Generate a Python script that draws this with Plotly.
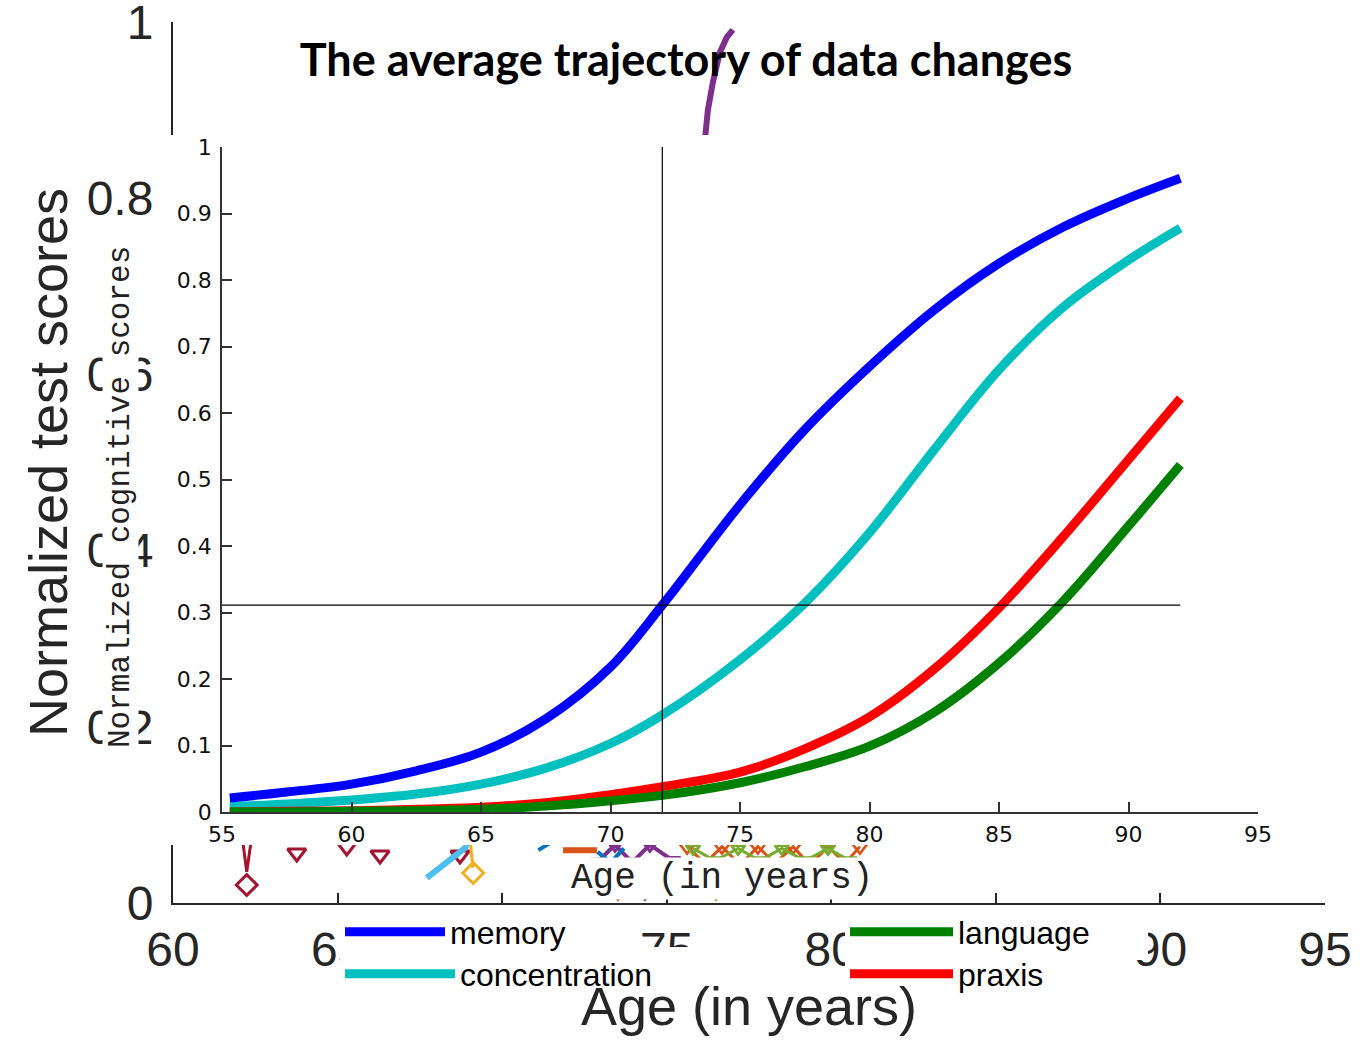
import plotly.graph_objects as go

W, H = 1372, 1049

# ---------------- inner chart data (average trajectories) ----------------
age = [55.3, 57.5, 60, 62.5, 65, 67.5, 70, 72, 75, 77.5, 80, 82.5, 85, 87.5, 90, 92]
memory = [0.021, 0.030, 0.042, 0.062, 0.090, 0.140, 0.218, 0.311, 0.462, 0.575, 0.670, 0.755, 0.825, 0.880, 0.923, 0.953]
concentration = [0.008, 0.012, 0.018, 0.027, 0.042, 0.066, 0.103, 0.146, 0.229, 0.314, 0.420, 0.545, 0.665, 0.760, 0.830, 0.878]
language = [0.0, 0.0, 0.001, 0.002, 0.004, 0.009, 0.017, 0.025, 0.044, 0.068, 0.099, 0.150, 0.224, 0.318, 0.430, 0.522]
praxis = [0.0, 0.001, 0.002, 0.004, 0.007, 0.014, 0.026, 0.038, 0.060, 0.095, 0.143, 0.215, 0.307, 0.415, 0.530, 0.622]

cross_age = 72
cross_score = 0.311
cross_age_start = 55
cross_age_end = 92
inner_score_top = 1.0
inner_score_bottom = 0.0

inner_x_ticks = [55, 60, 65, 70, 75, 80, 85, 90, 95]
inner_y_ticks = [0, 0.1, 0.2, 0.3, 0.4, 0.5, 0.6, 0.7, 0.8, 0.9, 1]
inner_y_labels = ["0", "0.1", "0.2", "0.3", "0.4", "0.5", "0.6", "0.7", "0.8", "0.9", "1"]

# ---------------- background chart data (individual trajectories) ----------------
bg_x_ticks = [60, 65, 70, 75, 80, 85, 90, 95]
bg_y_ticks = [0, 0.2, 0.4, 0.6, 0.8, 1]
bg_y_labels = ["0", "0.2", "0.4", "0.6", "0.8", "1"]

purple_age = [76.10, 76.16, 76.25, 76.40, 76.61, 76.83, 77.01]
purple_score = [0.843, 0.874, 0.900, 0.931, 0.965, 0.983, 0.991]

purple_zz_age = [72.88, 73.43, 73.95, 74.49, 75.19]
purple_zz_score = [0.046, 0.066, 0.046, 0.066, 0.048]

darkred_v_age = [62.05, 62.24, 62.45]
darkred_v_score = [0.090, 0.0355, 0.090]
darkred_diamond_age = [62.24]
darkred_diamond_score = [0.0204]
darkred_tri_age = [63.76, 65.28, 66.29, 68.72]
darkred_tri_score = [0.0568, 0.0636, 0.0545, 0.0545]

lightblue_age = [67.71, 68.30, 68.87, 69.2]
lightblue_score = [0.0284, 0.046, 0.0624, 0.09]

yellow_age = [69.02, 69.11]
yellow_score = [0.075, 0.040]
yellow_diamond_age = [69.12]
yellow_diamond_score = [0.034]

blue_age = [71.1, 71.45, None, 72.9, 73.3, 73.7]
blue_score = [0.060, 0.068, None, 0.058, 0.046, 0.062]

orange_line_age = [71.85, 72.88]
orange_line_score = [0.060, 0.060]
orange_zz_age = [75.62, 76.16, 76.68, 77.23, 77.77, 78.29, 78.84, 79.35, 79.90, 80.42, 80.87]
orange_zz_score = [0.064, 0.045, 0.064, 0.043, 0.064, 0.045, 0.064, 0.043, 0.064, 0.045, 0.064]

green_zz_age = [75.80, 76.47, 77.17, 77.83, 78.50, 79.20, 79.90, 80.57]
green_zz_score = [0.062, 0.048, 0.062, 0.048, 0.062, 0.048, 0.062, 0.048]

low_age = [73.52, 74.34, 76.50]
low_score = [0.007, 0.007, 0.007]
low_colors = ["#D95319", "#7E2F8E", "#77AC30"]

fig = go.Figure()

# ---- background traces (axes x / y) ----
bg = dict(xaxis="x", yaxis="y", showlegend=False, hoverinfo="skip")
fig.add_trace(go.Scatter(x=purple_age, y=purple_score, mode="lines", line=dict(color="#7E2F8E", width=6), **bg))
fig.add_trace(go.Scatter(x=purple_zz_age, y=purple_zz_score, mode="lines+markers",
                         line=dict(color="#7E2F8E", width=4),
                         marker=dict(symbol="triangle-down-open", size=13, color="#7E2F8E", line=dict(width=3)), **bg))
fig.add_trace(go.Scatter(x=darkred_v_age, y=darkred_v_score, mode="lines", line=dict(color="#A2142F", width=3), **bg))
fig.add_trace(go.Scatter(x=darkred_diamond_age, y=darkred_diamond_score, mode="markers",
                         marker=dict(symbol="diamond-open", size=16, color="#A2142F", line=dict(width=3)), **bg))
fig.add_trace(go.Scatter(x=darkred_tri_age, y=darkred_tri_score, mode="markers",
                         marker=dict(symbol="triangle-down-open", size=16, color="#A2142F", line=dict(width=3)), **bg))
fig.add_trace(go.Scatter(x=lightblue_age, y=lightblue_score, mode="lines", line=dict(color="#4DBEEE", width=6), **bg))
fig.add_trace(go.Scatter(x=yellow_age, y=yellow_score, mode="lines", line=dict(color="#EDB120", width=3), **bg))
fig.add_trace(go.Scatter(x=yellow_diamond_age, y=yellow_diamond_score, mode="markers",
                         marker=dict(symbol="diamond-open", size=16, color="#EDB120", line=dict(width=3)), **bg))
fig.add_trace(go.Scatter(x=blue_age, y=blue_score, mode="lines", line=dict(color="#0072BD", width=4), **bg))
fig.add_trace(go.Scatter(x=orange_line_age, y=orange_line_score, mode="lines", line=dict(color="#D95319", width=6), **bg))
fig.add_trace(go.Scatter(x=orange_zz_age, y=orange_zz_score, mode="lines+markers",
                         line=dict(color="#D95319", width=3),
                         marker=dict(symbol="triangle-down-open", size=14, color="#D95319", line=dict(width=2.5)), **bg))
fig.add_trace(go.Scatter(x=green_zz_age, y=green_zz_score, mode="lines+markers",
                         line=dict(color="#77AC30", width=3),
                         marker=dict(symbol="triangle-down-open", size=12, color="#77AC30", line=dict(width=3)), **bg))
fig.add_trace(go.Scatter(x=low_age, y=low_score, mode="markers",
                         marker=dict(symbol="triangle-down", size=10, color=low_colors), **bg))

# ---- occluder subplot (x2 / y2): white panel of the pasted inner chart ----
fig.add_trace(go.Scatter(x=[0.5], y=[0.5], mode="markers", marker=dict(opacity=0),
                         xaxis="x2", yaxis="y2", showlegend=False, hoverinfo="skip"))
fig.add_shape(type="rect", xref="x2", yref="y2", x0=0, x1=1, y0=0, y1=1,
              fillcolor="white", line=dict(width=0), layer="below")

# ---- inner chart (x3 / y3) ----
# trace order sets legend drawing order: lower-row legends first, upper-row legends on top
inner = dict(xaxis="x3", yaxis="y3", mode="lines", hoverinfo="x+y")
spl = dict(width=9, shape="spline", smoothing=1.0)
fig.add_trace(go.Scatter(x=age, y=concentration, name="concentration", line=dict(color="#00BFBF", **spl), legend="legend", **inner))
fig.add_trace(go.Scatter(x=age, y=memory, name="memory", line=dict(color="#0000FF", **spl), legend="legend2", **inner))
fig.add_trace(go.Scatter(x=age, y=praxis, name="praxis", line=dict(color="#FF0000", **spl), legend="legend3", **inner))
fig.add_trace(go.Scatter(x=age, y=language, name="language", line=dict(color="#008000", **spl), legend="legend4", **inner))
fig.add_trace(go.Scatter(x=[cross_age, cross_age], y=[inner_score_bottom, inner_score_top], mode="lines",
                         line=dict(color="black", width=1.2), xaxis="x3", yaxis="y3", showlegend=False, hoverinfo="skip"))
fig.add_trace(go.Scatter(x=[cross_age_start, cross_age_end], y=[cross_score, cross_score], mode="lines",
                         line=dict(color="black", width=1.2), xaxis="x3", yaxis="y3", showlegend=False, hoverinfo="skip"))

big_font = dict(family="Liberation Sans, Arial, sans-serif", size=48, color="#262626")
small_font = dict(family="DejaVu Sans, Verdana, sans-serif", size=22, color="#111111")
legend_font = dict(family="Liberation Sans, Arial, sans-serif", size=32, color="black")


def one_legend(px, py, itemw, entryw):
    return dict(x=px / W, y=1 - py / H, xanchor="left", yanchor="middle", bgcolor="white",
                orientation="h", font=legend_font, itemwidth=itemw, entrywidth=entryw,
                entrywidthmode="pixels", borderwidth=0, tracegroupgap=0)


fig.update_layout(
    width=W, height=H,
    margin=dict(l=0, r=0, t=0, b=0, pad=0, autoexpand=False),
    paper_bgcolor="white", plot_bgcolor="white",
    title=dict(text="<b>The average trajectory of data changes</b>", x=0.5, xanchor="center",
               y=1 - 60 / H, yanchor="middle",
               font=dict(family="Lato, Noto Sans, sans-serif", size=45, color="black")),
    xaxis=dict(domain=[173 / W, 1325 / W], range=[60, 95], anchor="y", automargin=False,
               showline=True, linecolor="#262626", linewidth=2, mirror=False,
               ticks="inside", ticklen=10, tickwidth=2, tickcolor="#262626",
               tickvals=bg_x_ticks, tickfont=big_font, ticklabelstandoff=3, ticklabeloverflow="allow",
               showgrid=False, zeroline=False,
               title=dict(text="Age (in years)", standoff=12,
                          font=dict(family="Liberation Sans, Arial, sans-serif", size=54, color="#262626"))),
    yaxis=dict(domain=[1 - 903 / H, 1 - 22 / H], range=[0, 1], anchor="x", automargin=False,
               showline=True, linecolor="#262626", linewidth=2,
               ticks="inside", ticklen=10, tickwidth=2, tickcolor="#262626",
               tickvals=bg_y_ticks, ticktext=bg_y_labels, tickfont=big_font, ticklabelstandoff=8,
               ticklabeloverflow="allow",
               showgrid=False, zeroline=False,
               title=dict(text="Normalized test scores", standoff=2,
                          font=dict(family="Liberation Sans, Arial, sans-serif", size=54, color="#262626"))),
    xaxis2=dict(domain=[160 / W, 1.0], range=[0, 1], anchor="y2", visible=False, fixedrange=True, automargin=False),
    yaxis2=dict(domain=[1 - 845 / H, 1 - 135 / H], range=[0, 1], anchor="x2", visible=False, fixedrange=True, automargin=False),
    xaxis3=dict(domain=[222 / W, 1258 / W], range=[55, 95], anchor="y3", automargin=False,
                showline=True, linecolor="#333333", linewidth=1.5,
                ticks="inside", ticklen=10, tickwidth=1.5, tickcolor="#333333",
                tickvals=inner_x_ticks, tickfont=small_font, ticklabelstandoff=2,
                showgrid=False, zeroline=False),
    yaxis3=dict(domain=[1 - 812 / H, 1 - 147 / H], range=[0, 1], anchor="x3", automargin=False,
                showline=True, linecolor="#333333", linewidth=1.5,
                ticks="inside", ticklen=10, tickwidth=1.5, tickcolor="#333333",
                tickvals=inner_y_ticks, ticktext=inner_y_labels, tickfont=small_font, ticklabelstandoff=4,
                showgrid=False, zeroline=False),
    legend=one_legend(340, 974, 110, 280),    # concentration (lower row)
    legend2=one_legend(340, 932, 100, 150),   # memory (upper row, drawn on top)
    legend3=one_legend(845, 974, 103, 120),   # praxis (lower row)
    legend4=one_legend(845, 932, 103, 185),   # language (upper row, drawn on top)
    annotations=[
        dict(text="Normalized cognitive scores", x=120 / W, y=1 - 497 / H, xref="paper", yref="paper",
             xanchor="center", yanchor="middle",
             showarrow=False, textangle=-90, bgcolor="white", borderpad=0,
             font=dict(family="Liberation Mono, Courier New, monospace", size=31, color="#222222")),
        dict(text="Age (in years)", x=722 / W, y=1 - 878 / H, xref="paper", yref="paper",
             xanchor="center", yanchor="middle",
             showarrow=False, bgcolor="white", borderpad=0,
             font=dict(family="Liberation Mono, Courier New, monospace", size=36, color="#222222")),
    ],
    showlegend=True,
)

fig.write_html("out.html", config={"displayModeBar": False},
               post_script="document.body.style.margin='0';document.body.style.overflow='hidden';")
